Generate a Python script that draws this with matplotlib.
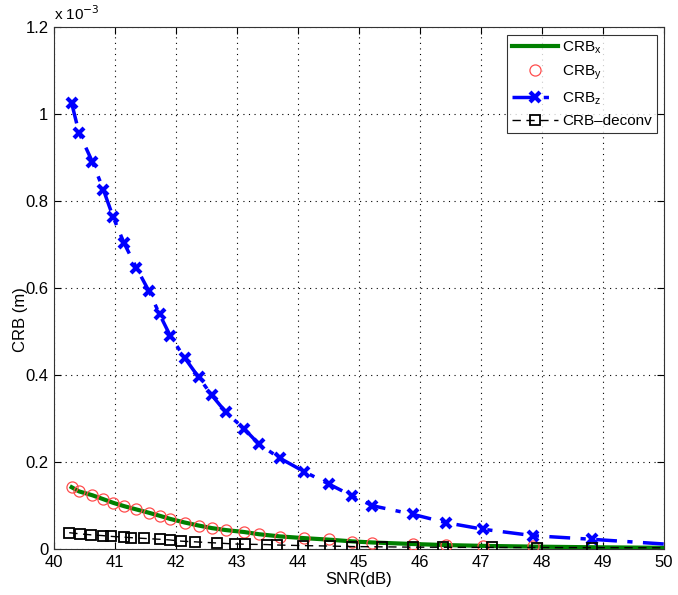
import matplotlib
matplotlib.use("Agg")
import matplotlib.pyplot as plt

plt.rcParams['font.family'] = ['Liberation Sans', 'DejaVu Sans']

# values in units of 1e-3 m
snr_xyz = [40.29, 40.41, 40.63, 40.81, 40.97, 41.15, 41.35, 41.56, 41.73, 41.91,
           42.14, 42.37, 42.59, 42.82, 43.12, 43.36, 43.70, 44.10, 44.51, 44.89,
           45.22, 45.88, 46.43, 47.04, 47.86, 48.82, 50.0]
crb_z = [1.025, 0.957, 0.890, 0.826, 0.763, 0.703, 0.647, 0.592, 0.540, 0.489,
         0.440, 0.395, 0.353, 0.314, 0.276, 0.241, 0.209, 0.178, 0.149, 0.122,
         0.0995, 0.0798, 0.0605, 0.0453, 0.0306, 0.0223, 0.0115]
crb_y = [0.1432, 0.1333, 0.1241, 0.1149, 0.1064, 0.0989, 0.0913, 0.0834, 0.0766, 0.0690,
         0.0605, 0.0536, 0.0476, 0.0437, 0.0398, 0.0338, 0.0283, 0.0246, 0.0223, 0.0168,
         0.0145, 0.0108, 0.0085, 0.0069, 0.0062, 0.0040, 0.0025]
crb_x = [0.1420, 0.1325, 0.1235, 0.1145, 0.1062, 0.0985, 0.0910, 0.0832, 0.0765, 0.0690,
         0.0610, 0.0540, 0.0480, 0.0435, 0.0390, 0.0340, 0.0290, 0.0250, 0.0215, 0.0175,
         0.0150, 0.0115, 0.0090, 0.0072, 0.0055, 0.0040, 0.0028]
snr_deconv = [40.25, 40.43, 40.61, 40.80, 40.94, 41.14, 41.27, 41.48, 41.73, 41.90,
              42.09, 42.31, 42.67, 42.97, 43.13, 43.49, 43.65, 44.09, 44.52, 44.89,
              45.37, 45.89, 46.38, 47.18, 47.91, 48.82, 50.0]
crb_deconv = [0.0375, 0.0348, 0.0325, 0.0308, 0.0290, 0.0273, 0.0260, 0.0243, 0.0224, 0.0208,
              0.0180, 0.0165, 0.0138, 0.0115, 0.0110, 0.0102, 0.0092, 0.0078, 0.0068, 0.0056,
              0.0050, 0.0043, 0.0040, 0.0036, 0.0034, 0.0032, 0.0028]

xticks = [40, 41, 42, 43, 44, 45, 46, 47, 48, 49, 50]
yticks = [0, 0.2, 0.4, 0.6, 0.8, 1.0, 1.2]
ytick_labels = ['0', '0.2', '0.4', '0.6', '0.8', '1', '1.2']

fig = plt.figure(figsize=(6.78, 5.95), dpi=100)
ax = fig.add_axes([0.0796, 0.0773, 0.8998, 0.8773])

nmark = len(snr_xyz) - 1
ax.plot(snr_xyz, crb_x, color=(0, 0.5, 0), lw=3, label='CRB$_\\mathregular{x}$', zorder=3)
ax.plot(snr_xyz[:25], crb_y[:25], ls='none', marker='o', ms=8, mfc='none',
        mec=(1, 0.3, 0.3), mew=0.9, label='CRB$_\\mathregular{y}$', zorder=4)
ax.plot(snr_xyz, crb_z, color='blue', ls='-.', lw=2.5, marker='x', ms=6.5, mew=3,
        markevery=list(range(nmark)), label='CRB$_\\mathregular{z}$', zorder=5,
        dashes=(6, 3, 1.5, 3))
ax.plot(snr_deconv, crb_deconv, color='black', ls='--', lw=1.0, marker='s', ms=7,
        mfc='none', mec='black', mew=1.3, markevery=list(range(len(snr_deconv) - 1)),
        label='CRB\u2013deconv', zorder=6, dashes=(6, 4))

ax.set_xlim(40, 50)
ax.set_ylim(0, 1.2)
ax.set_xticks(xticks)
ax.set_yticks(yticks)
ax.set_yticklabels(ytick_labels)
ax.tick_params(direction='in', top=True, right=True, labelsize=12, length=5,
               width=0.8, pad=4)
ax.grid(True, color='black', ls=(0, (1, 4)), lw=0.8)
for s in ax.spines.values():
    s.set_linewidth(0.8)
    s.set_color('#333333')

ax.set_xlabel('SNR(dB)', fontsize=12, labelpad=2)
ax.set_ylabel('CRB (m)', fontsize=12)
ax.yaxis.set_label_coords(-0.043, 0.44)
ax.text(0.0, 1.008, 'x 10$^{-3}$', transform=ax.transAxes, fontsize=11,
        ha='left', va='bottom')

leg = ax.legend(loc='upper right', bbox_to_anchor=(0.988, 0.985), fontsize=11,
                frameon=True, fancybox=False, edgecolor='black', borderaxespad=0.0,
                handlelength=3.0, labelspacing=0.5, borderpad=0.3, handletextpad=0.3)
leg.get_frame().set_linewidth(0.8)

fig.savefig('out.png', dpi=100)
